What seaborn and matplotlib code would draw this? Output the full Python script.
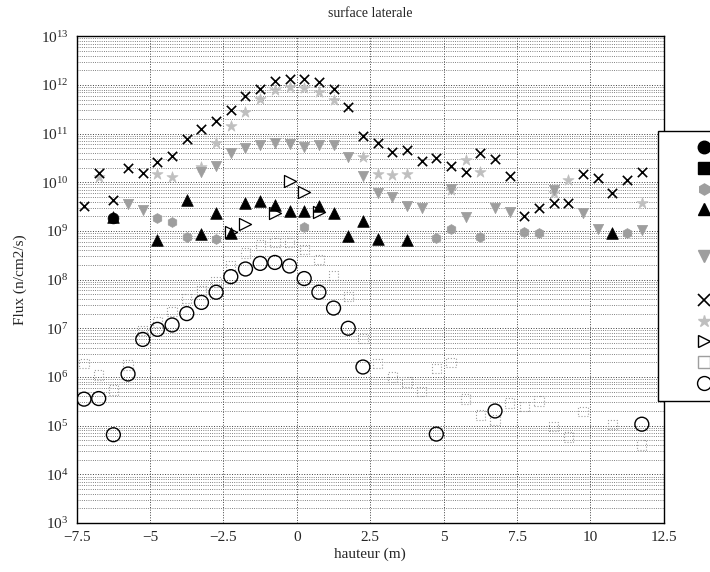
import numpy as np
import matplotlib
matplotlib.use("Agg")
import matplotlib.pyplot as plt
from matplotlib.lines import Line2D
from matplotlib.ticker import FixedLocator, NullFormatter, LogFormatterMathtext
import seaborn as sns

# hauteur (m) / flux (n/cm2/s)
x_croix = [-7.25, -6.75, -6.25, -5.75, -5.25, -4.75, -4.25, -3.75, -3.25, -2.75,
           -2.25, -1.75, -1.25, -0.75, -0.25, 0.25, 0.75, 1.25, 1.75, 2.25,
           2.75, 3.25, 3.75, 4.25, 4.75, 5.25, 5.75, 6.25, 6.75, 7.25,
           7.75, 8.25, 8.75, 9.25, 9.75, 10.25, 10.75, 11.25, 11.75]
y_croix = [3.3e9, 1.55e10, 4.3e9, 2.0e10, 1.55e10, 2.6e10, 3.5e10, 7.6e10, 1.26e11, 1.8e11,
           3.1e11, 5.9e11, 8.1e11, 1.2e12, 1.3e12, 1.35e12, 1.15e12, 8.1e11, 3.5e11, 8.9e10,
           6.3e10, 4.2e10, 4.5e10, 2.75e10, 3.2e10, 2.2e10, 1.6e10, 4.0e10, 2.95e10, 1.35e10,
           2.0e9, 2.95e9, 3.8e9, 3.8e9, 1.5e10, 1.2e10, 6.0e9, 1.1e10, 1.6e10]

x_tri = [-6.25, -4.75, -3.75, -3.25, -2.75, -2.25, -1.75, -1.25, -0.75, -0.25,
         0.25, 0.75, 1.25, 1.75, 2.25, 2.75, 3.75, 10.75]
y_tri = [1.95e9, 6.5e8, 4.3e9, 8.5e8, 2.3e9, 9.1e8, 3.8e9, 4.1e9, 3.4e9, 2.6e9,
         2.6e9, 3.2e9, 2.35e9, 7.9e8, 1.6e9, 6.8e8, 6.5e8, 8.9e8]

x_rond_plein = [-6.25]
y_rond_plein = [1.8e9]

x_tri_d = [-2.25, -1.75, -0.75, -0.25, 0.25, 0.75]
y_tri_d = [9.5e8, 1.4e9, 2.3e9, 1.05e10, 6.3e9, 2.45e9]

x_rond = [-7.25, -6.75, -6.25, -5.75, -5.25, -4.75, -4.25, -3.75, -3.25, -2.75,
          -2.25, -1.75, -1.25, -0.75, -0.25, 0.25, 0.75, 1.25, 1.75, 2.25,
          4.75, 6.75, 11.75]
y_rond = [3.5e5, 3.6e5, 6.5e4, 1.15e6, 5.9e6, 9.5e6, 1.17e7, 2.0e7, 3.4e7, 5.5e7,
          1.15e8, 1.65e8, 2.15e8, 2.25e8, 1.9e8, 1.05e8, 5.5e7, 2.6e7, 1.0e7, 1.6e6,
          6.7e4, 2.0e5, 1.07e5]

x_carre = [-7.25, -6.75, -6.25, -5.75, -5.25, -4.75, -4.25, -3.75, -3.25, -2.75,
           -2.25, -1.75, -1.25, -0.75, -0.25, 0.25, 0.75, 1.25, 1.75, 2.25,
           2.75, 3.25, 3.75, 4.25, 4.75, 5.25, 5.75, 6.25, 6.75, 7.25,
           7.75, 8.25, 8.75, 9.25, 9.75, 10.75, 11.75]
y_carre = [1.9e6, 1.1e6, 5.4e5, 1.75e6, 9.1e6, 1.35e7, 2.2e7, 4.1e7, 6.0e7, 8.9e7,
           1.95e8, 3.5e8, 5.1e8, 5.8e8, 5.8e8, 4.2e8, 2.6e8, 1.2e8, 4.5e7, 6.2e6,
           1.9e6, 1.0e6, 7.9e5, 5.0e5, 1.5e6, 2.0e6, 3.5e5, 1.65e5, 1.3e5, 2.9e5,
           2.45e5, 3.2e5, 9.5e4, 5.8e4, 1.95e5, 1.07e5, 4.0e4]

x_v = [-5.75, -5.25, -3.25, -2.75, -2.25, -1.75, -1.25, -0.75, -0.25, 0.25,
       0.75, 1.25, 1.75, 2.25, 2.75, 3.25, 3.75, 4.25, 5.25, 5.75,
       6.75, 7.25, 8.75, 9.75, 10.25, 11.75]
y_v = [3.5e9, 2.75e9, 1.6e10, 2.2e10, 3.9e10, 5.1e10, 5.8e10, 6.5e10, 6.0e10, 5.4e10,
       5.8e10, 5.8e10, 3.3e10, 1.35e10, 5.9e9, 5.0e9, 3.2e9, 2.9e9, 7.4e9, 1.95e9,
       2.9e9, 2.45e9, 6.9e9, 2.3e9, 1.1e9, 1.05e9]

x_hex = [-4.75, -4.25, -3.75, -2.75, 0.25, 4.75, 5.25, 6.25, 7.75, 8.25, 11.25]
y_hex = [1.8e9, 1.55e9, 7.6e8, 6.8e8, 1.2e9, 7.2e8, 1.07e9, 7.4e8, 9.5e8, 9.1e8, 8.9e8]

x_etoile = [-6.75, -4.75, -4.25, -3.25, -2.75, -2.25, -1.75, -1.25, -0.75, -0.25,
            0.25, 0.75, 1.25, 2.25, 2.75, 3.25, 3.75, 5.25, 5.75, 6.25,
            8.75, 9.25, 11.75]
y_etoile = [1.3e10, 1.5e10, 1.3e10, 2.1e10, 6.3e10, 1.4e11, 2.8e11, 5.2e11, 7.8e11, 9.1e11,
            8.5e11, 7.2e11, 4.9e11, 3.3e10, 1.5e10, 1.4e10, 1.5e10, 6.9e9, 2.8e10, 1.6e10,
            5.9e9, 1.1e10, 3.7e9]

# axis ticks
x_ticks = [-7.5, -5, -2.5, 0, 2.5, 5, 7.5, 10, 12.5]
x_tick_labels = ["\u22127.5", "\u22125", "\u22122.5", "0", "2.5", "5", "7.5", "10", "12.5"]
y_ticks = [1e3, 1e4, 1e5, 1e6, 1e7, 1e8, 1e9, 1e10, 1e11, 1e12, 1e13]

# legend names fall outside the figure in the reference, so they are left blank;
# the 5th entry is a tall (multi-line) one
legend_labels = [" ", " ", " ", " ", " \n \n \n ", " ", " ", " ", " ", " "]

sns.set_style("white")
plt.rcParams["font.family"] = ["Liberation Serif", "DejaVu Serif"]
plt.rcParams["mathtext.fontset"] = "stix"

fig = plt.figure(figsize=(7.1, 5.72), dpi=100)
ax = fig.add_axes([0.108, 0.0857, 0.827, 0.851])

# grey series first, black ones on top
sns.scatterplot(x=x_carre, y=y_carre, ax=ax, marker="s", s=45, color="0.62",
                facecolor="none", edgecolor="0.62", linewidth=0.8, linestyle=":")
sns.scatterplot(x=x_etoile, y=y_etoile, ax=ax, marker="*", s=70, color="0.75",
                edgecolor="0.75", linewidth=0.5)
sns.scatterplot(x=x_hex, y=y_hex, ax=ax, marker="h", s=50, color="0.62",
                edgecolor="0.62", linewidth=0.5)
sns.scatterplot(x=x_v, y=y_v, ax=ax, marker="v", s=55, color="0.62",
                edgecolor="0.62", linewidth=0.5)
sns.scatterplot(x=x_rond, y=y_rond, ax=ax, marker="o", s=100, color="k",
                facecolor="none", edgecolor="k", linewidth=1.0)
sns.scatterplot(x=x_tri_d, y=y_tri_d, ax=ax, marker=">", s=75, color="k",
                facecolor="white", edgecolor="k", linewidth=0.9)
sns.scatterplot(x=x_rond_plein, y=y_rond_plein, ax=ax, marker="o", s=60, color="k",
                edgecolor="k", linewidth=0.5)
sns.scatterplot(x=x_tri, y=y_tri, ax=ax, marker="^", s=70, color="k",
                edgecolor="k", linewidth=0.5)
sns.scatterplot(x=x_croix, y=y_croix, ax=ax, marker="x", s=45, color="k",
                linewidth=1.2)

ax.set_yscale("log")
ax.set_xlim(-7.5, 12.5)
ax.set_ylim(1e3, 1e13)
ax.xaxis.set_major_locator(FixedLocator(x_ticks))
ax.set_xticklabels(x_tick_labels)
ax.yaxis.set_major_locator(FixedLocator(y_ticks))
ax.yaxis.set_major_formatter(LogFormatterMathtext())
minor_y = [m * d for d in y_ticks[:-1] for m in range(2, 10)]
ax.yaxis.set_minor_locator(FixedLocator(minor_y))
ax.yaxis.set_minor_formatter(NullFormatter())

ax.grid(which="major", axis="both", color="0.25", linestyle=":", linewidth=0.7)
ax.grid(which="minor", axis="y", color="0.35", linestyle=":", linewidth=0.6)
ax.tick_params(axis="both", which="both", direction="in", labelsize=11, pad=6)
ax.tick_params(axis="both", which="major", length=4)
ax.tick_params(axis="y", which="minor", length=2)
for sp in ax.spines.values():
    sp.set_color("k")
    sp.set_linewidth(1.0)

ax.set_title("surface laterale", fontsize=10, pad=14)
ax.set_xlabel("hauteur (m)", fontsize=11, labelpad=2)
ax.set_ylabel("Flux (n/cm2/s)", fontsize=11, labelpad=10)

handles = [
    Line2D([], [], ls="none", marker="o", ms=9, mfc="k", mec="k"),
    Line2D([], [], ls="none", marker="s", ms=8, mfc="k", mec="k"),
    Line2D([], [], ls="none", marker="h", ms=8, mfc="0.62", mec="0.62"),
    Line2D([], [], ls="none", marker="^", ms=9, mfc="k", mec="k"),
    Line2D([], [], ls="none", marker="v", ms=8, mfc="0.62", mec="0.62"),
    Line2D([], [], ls="none", marker="x", ms=8, mec="k", mew=1.2),
    Line2D([], [], ls="none", marker="*", ms=9, mfc="0.75", mec="0.75"),
    Line2D([], [], ls="none", marker=">", ms=9, mfc="none", mec="k"),
    Line2D([], [], ls="none", marker="s", ms=8, mfc="none", mec="0.62"),
    Line2D([], [], ls="none", marker="o", ms=10, mfc="none", mec="k"),
]
leg = ax.legend(handles, legend_labels, loc="upper left",
                bbox_to_anchor=(658 / 710, 1 - 131 / 572), bbox_transform=fig.transFigure,
                borderaxespad=0, fontsize=10, frameon=True, fancybox=False, framealpha=1,
                edgecolor="k", handlelength=5.0, borderpad=0.8, labelspacing=0.55)
leg.get_frame().set_linewidth(1.0)
leg.get_texts()[4].set_linespacing(1.35)

fig.savefig("out.png", dpi=100)
